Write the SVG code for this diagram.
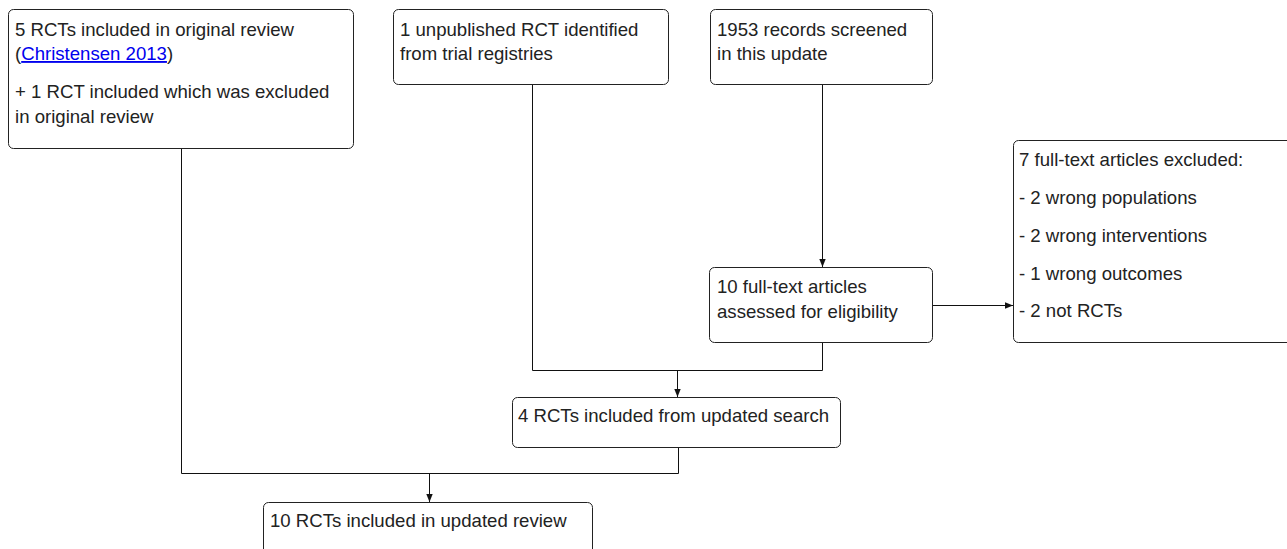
<svg xmlns="http://www.w3.org/2000/svg" width="1287" height="549" viewBox="0 0 1287 549">
<style>
.box{fill:#fff;stroke:#222;stroke-width:1}
.t{font-family:"Liberation Sans",Arial,sans-serif;font-size:18.6px;fill:#222}
.link{fill:#0000ee;text-decoration:underline}
.c{fill:none;stroke:#111;stroke-width:1}
</style>
<defs>
<marker id="ah" viewBox="0 0 10 10" refX="10" refY="5" markerWidth="8" markerHeight="8" markerUnits="userSpaceOnUse" orient="auto">
<path d="M0,1 L10,5 L0,9 Z" fill="#111"/>
</marker>
</defs>
<rect width="1287" height="549" fill="#fff"/>
<g id="connectors">
<polyline class="c" points="181.5,148 181.5,473.5 678.5,473.5 678.5,447"/>
<line class="c" x1="429.5" y1="473.5" x2="429.5" y2="502" marker-end="url(#ah)"/>
<polyline class="c" points="532.5,84 532.5,370.5 822.5,370.5 822.5,342"/>
<line class="c" x1="677.5" y1="370.5" x2="677.5" y2="397" marker-end="url(#ah)"/>
<line class="c" x1="822.5" y1="84" x2="822.5" y2="267" marker-end="url(#ah)"/>
<line class="c" x1="933" y1="305.5" x2="1013" y2="305.5" marker-end="url(#ah)"/>
</g>
<g id="n1">
<rect class="box" x="8.5" y="9.5" width="345" height="139" rx="5"/>
<text class="t" x="15" y="36">5 RCTs included in original review</text>
<text class="t" x="15" y="60">(<tspan class="link">Christensen 2013</tspan>)</text>
<text class="t" x="15" y="98">+ 1 RCT included which was excluded</text>
<text class="t" x="15" y="123">in original review</text>
</g>
<g id="n2">
<rect class="box" x="393.5" y="9.5" width="275" height="75" rx="5"/>
<text class="t" x="400" y="36">1 unpublished RCT identified</text>
<text class="t" x="400" y="60">from trial registries</text>
</g>
<g id="n3">
<rect class="box" x="710.5" y="9.5" width="222" height="75" rx="5"/>
<text class="t" x="717" y="36">1953 records screened</text>
<text class="t" x="717" y="60">in this update</text>
</g>
<g id="n4">
<rect class="box" x="709.5" y="267.5" width="223" height="75" rx="5"/>
<text class="t" x="717" y="293">10 full-text articles</text>
<text class="t" x="717" y="318">assessed for eligibility</text>
</g>
<g id="n5">
<rect class="box" x="1013.5" y="140.5" width="280" height="202" rx="5"/>
<text class="t" x="1019" y="166">7 full-text articles excluded:</text>
<text class="t" x="1019" y="204">- 2 wrong populations</text>
<text class="t" x="1019" y="242">- 2 wrong interventions</text>
<text class="t" x="1019" y="280">- 1 wrong outcomes</text>
<text class="t" x="1019" y="317">- 2 not RCTs</text>
</g>
<g id="n6">
<rect class="box" x="512.5" y="397.5" width="328" height="50" rx="5"/>
<text class="t" x="518" y="422">4 RCTs included from updated search</text>
</g>
<g id="n7">
<rect class="box" x="263.5" y="502.5" width="329" height="60" rx="5"/>
<text class="t" x="270" y="527">10 RCTs included in updated review</text>
</g>
</svg>
